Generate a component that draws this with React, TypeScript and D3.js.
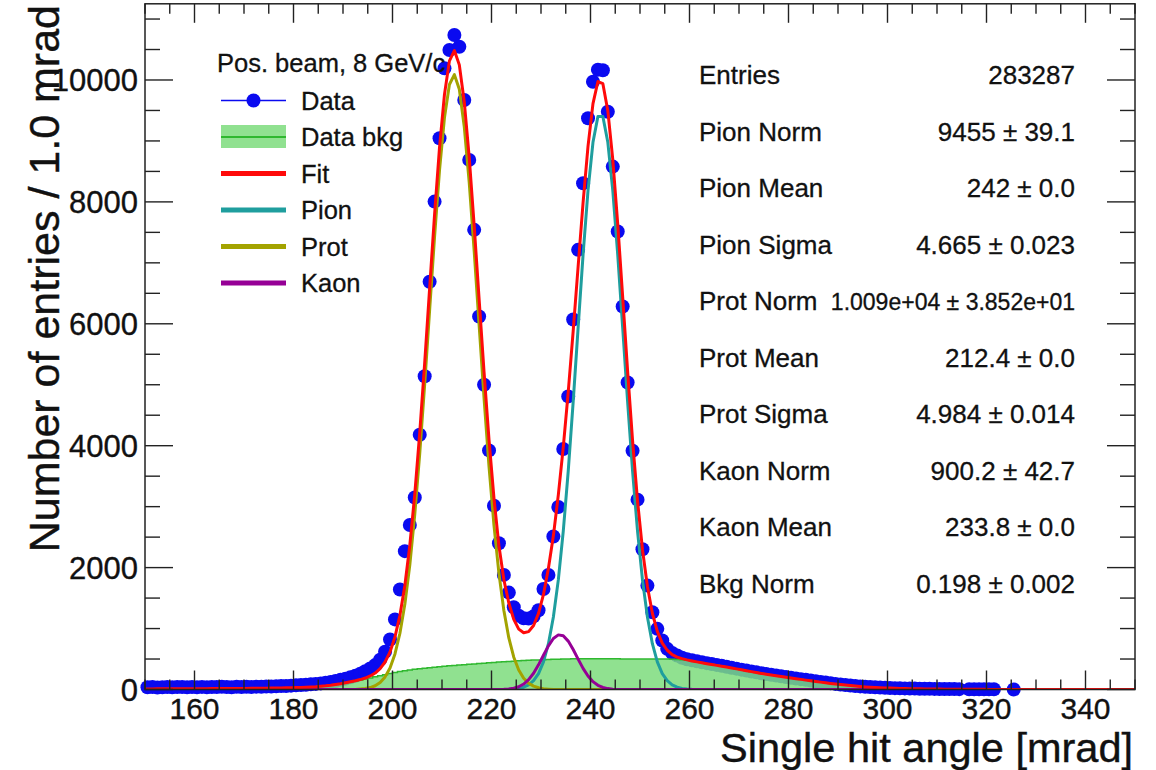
import React from 'react';
import * as d3 from 'd3';

// Histogram binning: 1 mrad bins, first bin low edge given by *_START
const X_MIN = 150;
const X_MAX = 350;
const Y_MAX = 11250;

const DATA_START = 150;
const dataCounts: (number | null)[] = [
  36, 40, 33, 38, 42, 35, 39, 41, 37, 40,
  38, 43, 36, 41, 39, 44, 40, 37, 45, 42,
  44, 41, 47, 45, 50, 48, 53, 56, 58, 63,
  68, 72, 78, 85, 92, 100, 112, 125, 140, 158,
  178, 200, 226, 258, 300, 345, 400, 490, 620, 820,
  1150, 1640, 2270, 2700, 3150, 4180, 5140, 6690, 8005, 9044,
  10191, 10492, 10738, 10546, 9672, 8689, 7541, 6120, 5000, 3923,
  3016, 2400, 1880, 1590, 1350, 1210, 1170, 1165, 1200, 1300,
  1650, 1880, 2510, 2995, 3946, 4809, 6070, 7213, 8306, 9372,
  9972, 10170, 10160, 9480, 8579, 7513, 6284, 5038, 3918, 3115,
  2300, 1705, 1267, 995, 803, 667, 600, 557, 520, 495,
  478, 462, 447, 432, 418, 404, 390, 374, 358, 342,
  326, 310, 296, 281, 266, 254, 241, 229, 217, 205,
  193, 181, 170, 158, 146, 135, 124, 113, 102, 92,
  83, 74, 66, 58, 51, 45, 40, 35, 31, 28,
  25, 22, 20, 18, 16, 15, 13, 12, 11, 10,
  9, 8, 8, 7, 6, null, 5, 5, 4, 4,
  3, 3, null, null, null, 1,
];

const BKG_START = 150;
const bkgCounts = [
  10, 10, 11, 11, 11, 12, 12, 12, 13, 13,
  13, 14, 14, 15, 15, 16, 16, 17, 17, 18,
  18, 19, 20, 21, 22, 23, 24, 25, 27, 29,
  31, 33, 36, 40, 45, 52, 60, 70, 82, 95,
  110, 125, 140, 155, 172, 190, 208, 226, 244, 262,
  280, 295, 308, 320, 331, 341, 350, 358, 366, 374,
  381, 388, 395, 401, 408, 414, 420, 426, 432, 438,
  444, 450, 455, 460, 465, 470, 474, 478, 482, 486,
  489, 492, 495, 498, 500, 502, 503, 504, 505, 505,
  505, 505, 504, 504, 503, 503, 502, 502, 501, 501,
  500, 500, 500, 500, 500, 500, 498, 494, 488, 478,
  466, 452, 438, 424, 410, 396, 382, 368, 353, 338,
  323, 308, 293, 278, 264, 251, 238, 226, 214, 202,
  190, 178, 166, 154, 143, 132, 121, 110, 100, 90,
  81, 72, 64, 56, 49, 43, 38, 33, 29, 26,
  23, 20, 18, 16, 14, 13, 11, 10, 9, 8,
  7, 6, 6, 5, 5, 4, 4, 3, 3, 3,
  2, 2, 2, 2, 1, 1, 1, 1, 1, 1,
];

const FIT_START = 150;
const fitValues = [
  10, 10, 11, 11, 11, 12, 12, 12, 13, 13,
  13, 14, 14, 15, 15, 16, 16, 17, 17, 18,
  18, 19, 20, 21, 22, 23, 24, 25, 27, 29,
  31, 33, 36, 40, 45, 52, 60, 70, 82, 95,
  111, 127, 144, 163, 188, 222, 270, 342, 451, 616,
  863, 1218, 1711, 2367, 3205, 4212, 5357, 6582, 7796, 8893,
  9764, 10314, 10483, 10248, 9640, 8730, 7614, 6403, 5204, 4096,
  3138, 2358, 1800, 1420, 1150, 990, 930, 950, 1050, 1250,
  1560, 1990, 2521, 3192, 3978, 4878, 5878, 6940, 7987, 8916,
  9612, 9975, 9939, 9497, 8699, 7641, 6440, 5220, 4083, 3098,
  2298, 1689, 1251, 953, 761, 644, 573, 532, 506, 486,
  469, 453, 438, 424, 410, 396, 382, 368, 353, 338,
  323, 308, 293, 278, 264, 251, 238, 226, 214, 202,
  190, 178, 166, 154, 143, 132, 121, 110, 100, 90,
  81, 72, 64, 56, 49, 43, 38, 33, 29, 26,
  23, 20, 18, 16, 14, 13, 11, 10, 9, 8,
  7, 6, 6, 5, 5, 4, 4, 3, 3, 3,
  2, 2, 2, 2, 1, 1, 1, 1, 1, 1,
];

const PROT_START = 193;
const protValues = [
  8, 16, 32, 62, 116, 207, 354, 583, 923, 1403,
  2047, 2874, 3871, 5007, 6224, 7430, 8519, 9383, 9926, 10088,
  9847, 9232, 8316, 7194, 5977, 4772, 3658, 2694, 1906, 1295,
  845, 530, 319, 184, 103, 55, 28, 13, 6,
];

const PION_START = 222;
const pionValues = [
  2, 3, 8, 18, 38, 75, 144, 261, 453, 751,
  1189, 1798, 2597, 3582, 4718, 5938, 7136, 8190, 8978, 9401,
  9401, 8978, 8190, 7136, 5938, 4718, 3582, 2597, 1798, 1189,
  751, 453, 261, 144, 75, 38, 18, 8, 3, 1,
];

const KAON_START = 221;
const kaonValues = [
  2, 4, 9, 21, 46, 90, 162, 267, 405, 562,
  716, 837, 896, 881, 794, 657, 498, 346, 221, 129,
  69, 34, 15, 6, 2,
];

const xMajorTicks = [160, 180, 200, 220, 240, 260, 280, 300, 320, 340];
const yMajorTicks = [0, 2000, 4000, 6000, 8000, 10000];

const legendTitle = 'Pos. beam, 8 GeV/c';
const legendLabels = ['Data', 'Data bkg', 'Fit', 'Pion', 'Prot', 'Kaon'];

const statNames = [
  'Entries', 'Pion Norm', 'Pion Mean', 'Pion Sigma', 'Prot Norm',
  'Prot Mean', 'Prot Sigma', 'Kaon Norm', 'Kaon Mean', 'Bkg Norm',
];
const statValues = [
  '283287', '9455 ± 39.1', '242 ± 0.0', '4.665 ± 0.023', '1.009e+04 ± 3.852e+01',
  '212.4 ± 0.0', '4.984 ± 0.014', '900.2 ± 42.7', '233.8 ± 0.0', '0.198 ± 0.002',
];

const COLORS = {
  data: '#0a0af0',
  bkgFill: '#7ddc7d',
  bkgLine: '#2fb82f',
  fit: '#ff0a0a',
  pion: '#1f9e9e',
  prot: '#a3a300',
  kaon: '#960096',
  axis: '#222',
  text: '#111',
};

const FONT = '"Liberation Sans", Arial, Helvetica, sans-serif';

const W = 1156;
const H = 770;
const frame = { left: 145, right: 1135, top: 3.8, bottom: 689.5 };

type Pt = { x: number; v: number };

// full-range points at bin centres (0 outside the stored values)
function binned(start: number, values: number[]): Pt[] {
  const pts: Pt[] = [];
  for (let b = X_MIN; b < X_MAX; b++) {
    const i = b - start;
    const v = i >= 0 && i < values.length ? values[i] : 0;
    pts.push({ x: b + 0.5, v });
  }
  return [{ x: X_MIN, v: pts[0].v }, ...pts, { x: X_MAX, v: pts[pts.length - 1].v }];
}

export default function App() {
  const x = d3.scaleLinear().domain([X_MIN, X_MAX]).range([frame.left, frame.right]);
  const y = d3.scaleLinear().domain([0, Y_MAX]).range([frame.bottom, frame.top]);

  const line = d3.line<Pt>().x(d => x(d.x)).y(d => y(d.v));

  const bkgPts = binned(BKG_START, bkgCounts);
  const bkgArea = d3.area<Pt>().x(d => x(d.x)).y0(y(0)).y1(d => y(d.v)).curve(d3.curveStep);
  const bkgTop = d3.line<Pt>().x(d => x(d.x)).y(d => y(d.v)).curve(d3.curveStep);

  const curves = [
    { key: 'pion', color: COLORS.pion, pts: binned(PION_START, pionValues) },
    { key: 'prot', color: COLORS.prot, pts: binned(PROT_START, protValues) },
    { key: 'kaon', color: COLORS.kaon, pts: binned(KAON_START, kaonValues) },
    { key: 'fit', color: COLORS.fit, pts: binned(FIT_START, fitValues) },
  ];

  const points = dataCounts
    .map((v, i) => ({ x: DATA_START + i + 0.5, v }))
    .filter(d => d.v !== null && (d.v as number) > 0) as Pt[];

  const xMinor = d3.range(X_MIN, X_MAX + 1, 5).filter(t => !xMajorTicks.includes(t));
  const yMinor = d3.range(0, Y_MAX, 500).filter(t => !yMajorTicks.includes(t));

  const legendColors = [COLORS.data, COLORS.bkgFill, COLORS.fit, COLORS.pion, COLORS.prot, COLORS.kaon];

  return (
    <>
      <style>{'body{margin:0}'}</style>
      <svg width={W} height={H} style={{ display: 'block', background: '#fff' }} fontFamily={FONT}>
        <defs>
          <clipPath id="plotClip">
            <rect x={frame.left} y={frame.top} width={frame.right - frame.left} height={frame.bottom - frame.top} />
          </clipPath>
        </defs>

        {/* data markers */}
        <g>
          {points.map((d, i) => (
            <circle key={i} cx={x(d.x)} cy={y(d.v)} r={7} fill={COLORS.data} />
          ))}
        </g>

        {/* background template and fit components */}
        <g clipPath="url(#plotClip)">
          <path d={bkgArea(bkgPts) || ''} fill={COLORS.bkgFill} fillOpacity={0.85} />
          <path d={bkgTop(bkgPts) || ''} fill="none" stroke={COLORS.bkgLine} strokeWidth={1.5} />
          {curves.map(c => (
            <path key={c.key} d={line(c.pts) || ''} fill="none" stroke={c.color} strokeWidth={3} strokeLinejoin="round" />
          ))}
        </g>

        {/* frame */}
        <rect x={frame.left} y={frame.top} width={frame.right - frame.left} height={frame.bottom - frame.top}
          fill="none" stroke={COLORS.axis} strokeWidth={1.5} />

        {/* ticks on all four sides */}
        <g stroke={COLORS.axis} strokeWidth={1.4}>
          {xMajorTicks.map(t => (
            <g key={'xM' + t}>
              <line x1={x(t)} x2={x(t)} y1={frame.bottom} y2={frame.bottom - 19} />
              <line x1={x(t)} x2={x(t)} y1={frame.top} y2={frame.top + 19} />
            </g>
          ))}
          {xMinor.map(t => (
            <g key={'xm' + t}>
              <line x1={x(t)} x2={x(t)} y1={frame.bottom} y2={frame.bottom - 10} />
              <line x1={x(t)} x2={x(t)} y1={frame.top} y2={frame.top + 10} />
            </g>
          ))}
          {yMajorTicks.map(t => (
            <g key={'yM' + t}>
              <line x1={frame.left} x2={frame.left + 28} y1={y(t)} y2={y(t)} />
              <line x1={frame.right} x2={frame.right - 28} y1={y(t)} y2={y(t)} />
            </g>
          ))}
          {yMinor.map(t => (
            <g key={'ym' + t}>
              <line x1={frame.left} x2={frame.left + 15} y1={y(t)} y2={y(t)} />
              <line x1={frame.right} x2={frame.right - 15} y1={y(t)} y2={y(t)} />
            </g>
          ))}
        </g>

        {/* tick labels */}
        <g fontSize={30} fill={COLORS.text} stroke={COLORS.text} strokeWidth={0.35}>
          {xMajorTicks.map(t => (
            <text key={'xl' + t} x={x(t)} y={718.5} textAnchor="middle">{t}</text>
          ))}
          {yMajorTicks.map(t => (
            <text key={'yl' + t} x={138} y={y(t)} dy="0.36em" textAnchor="end" fontSize={31}>{t}</text>
          ))}
        </g>

        {/* axis titles */}
        <g fill={COLORS.text} stroke={COLORS.text} strokeWidth={0.4}>
          <text x={1133} y={762} textAnchor="end" fontSize={41.5}>Single hit angle [mrad]</text>
          <text transform="translate(59,5) rotate(-90)" textAnchor="end" fontSize={43}>
            Number of entries / 1.0 mrad
          </text>
        </g>

        {/* legend */}
        <g fontSize={25.5} fill={COLORS.text}>
          <text x={217} y={72} stroke={COLORS.text} strokeWidth={0.3}>{legendTitle}</text>
          {legendLabels.map((lab, i) => {
            const base = 109.5 + i * 36.5;
            const cy = base - 9;
            return (
              <g key={lab}>
                {i === 0 && (
                  <>
                    <line x1={221} x2={286} y1={cy} y2={cy} stroke={COLORS.data} strokeWidth={1.5} />
                    <circle cx={253.5} cy={cy} r={7} fill={COLORS.data} />
                  </>
                )}
                {i === 1 && (
                  <>
                    <rect x={221} y={cy - 12} width={65} height={23} fill={COLORS.bkgFill} fillOpacity={0.85} />
                    <line x1={221} x2={286} y1={cy} y2={cy} stroke={COLORS.bkgLine} strokeWidth={2} />
                  </>
                )}
                {i > 1 && (
                  <line x1={221} x2={286} y1={cy} y2={cy} stroke={legendColors[i]} strokeWidth={5} />
                )}
                <text x={301} y={base} stroke={COLORS.text} strokeWidth={0.3}>{lab}</text>
              </g>
            );
          })}
        </g>

        {/* fit statistics; the long Prot Norm value is set a little smaller so it clears its label */}
        <g fontSize={26} fill={COLORS.text} stroke={COLORS.text} strokeWidth={0.3}>
          {statNames.map((n, i) => (
            <g key={n}>
              <text x={699} y={84 + i * 56.5}>{n}</text>
              <text x={1075} y={84 + i * 56.5} textAnchor="end"
                fontSize={statValues[i].length > 16 ? 23 : 26}>{statValues[i]}</text>
            </g>
          ))}
        </g>
      </svg>
    </>
  );
}
